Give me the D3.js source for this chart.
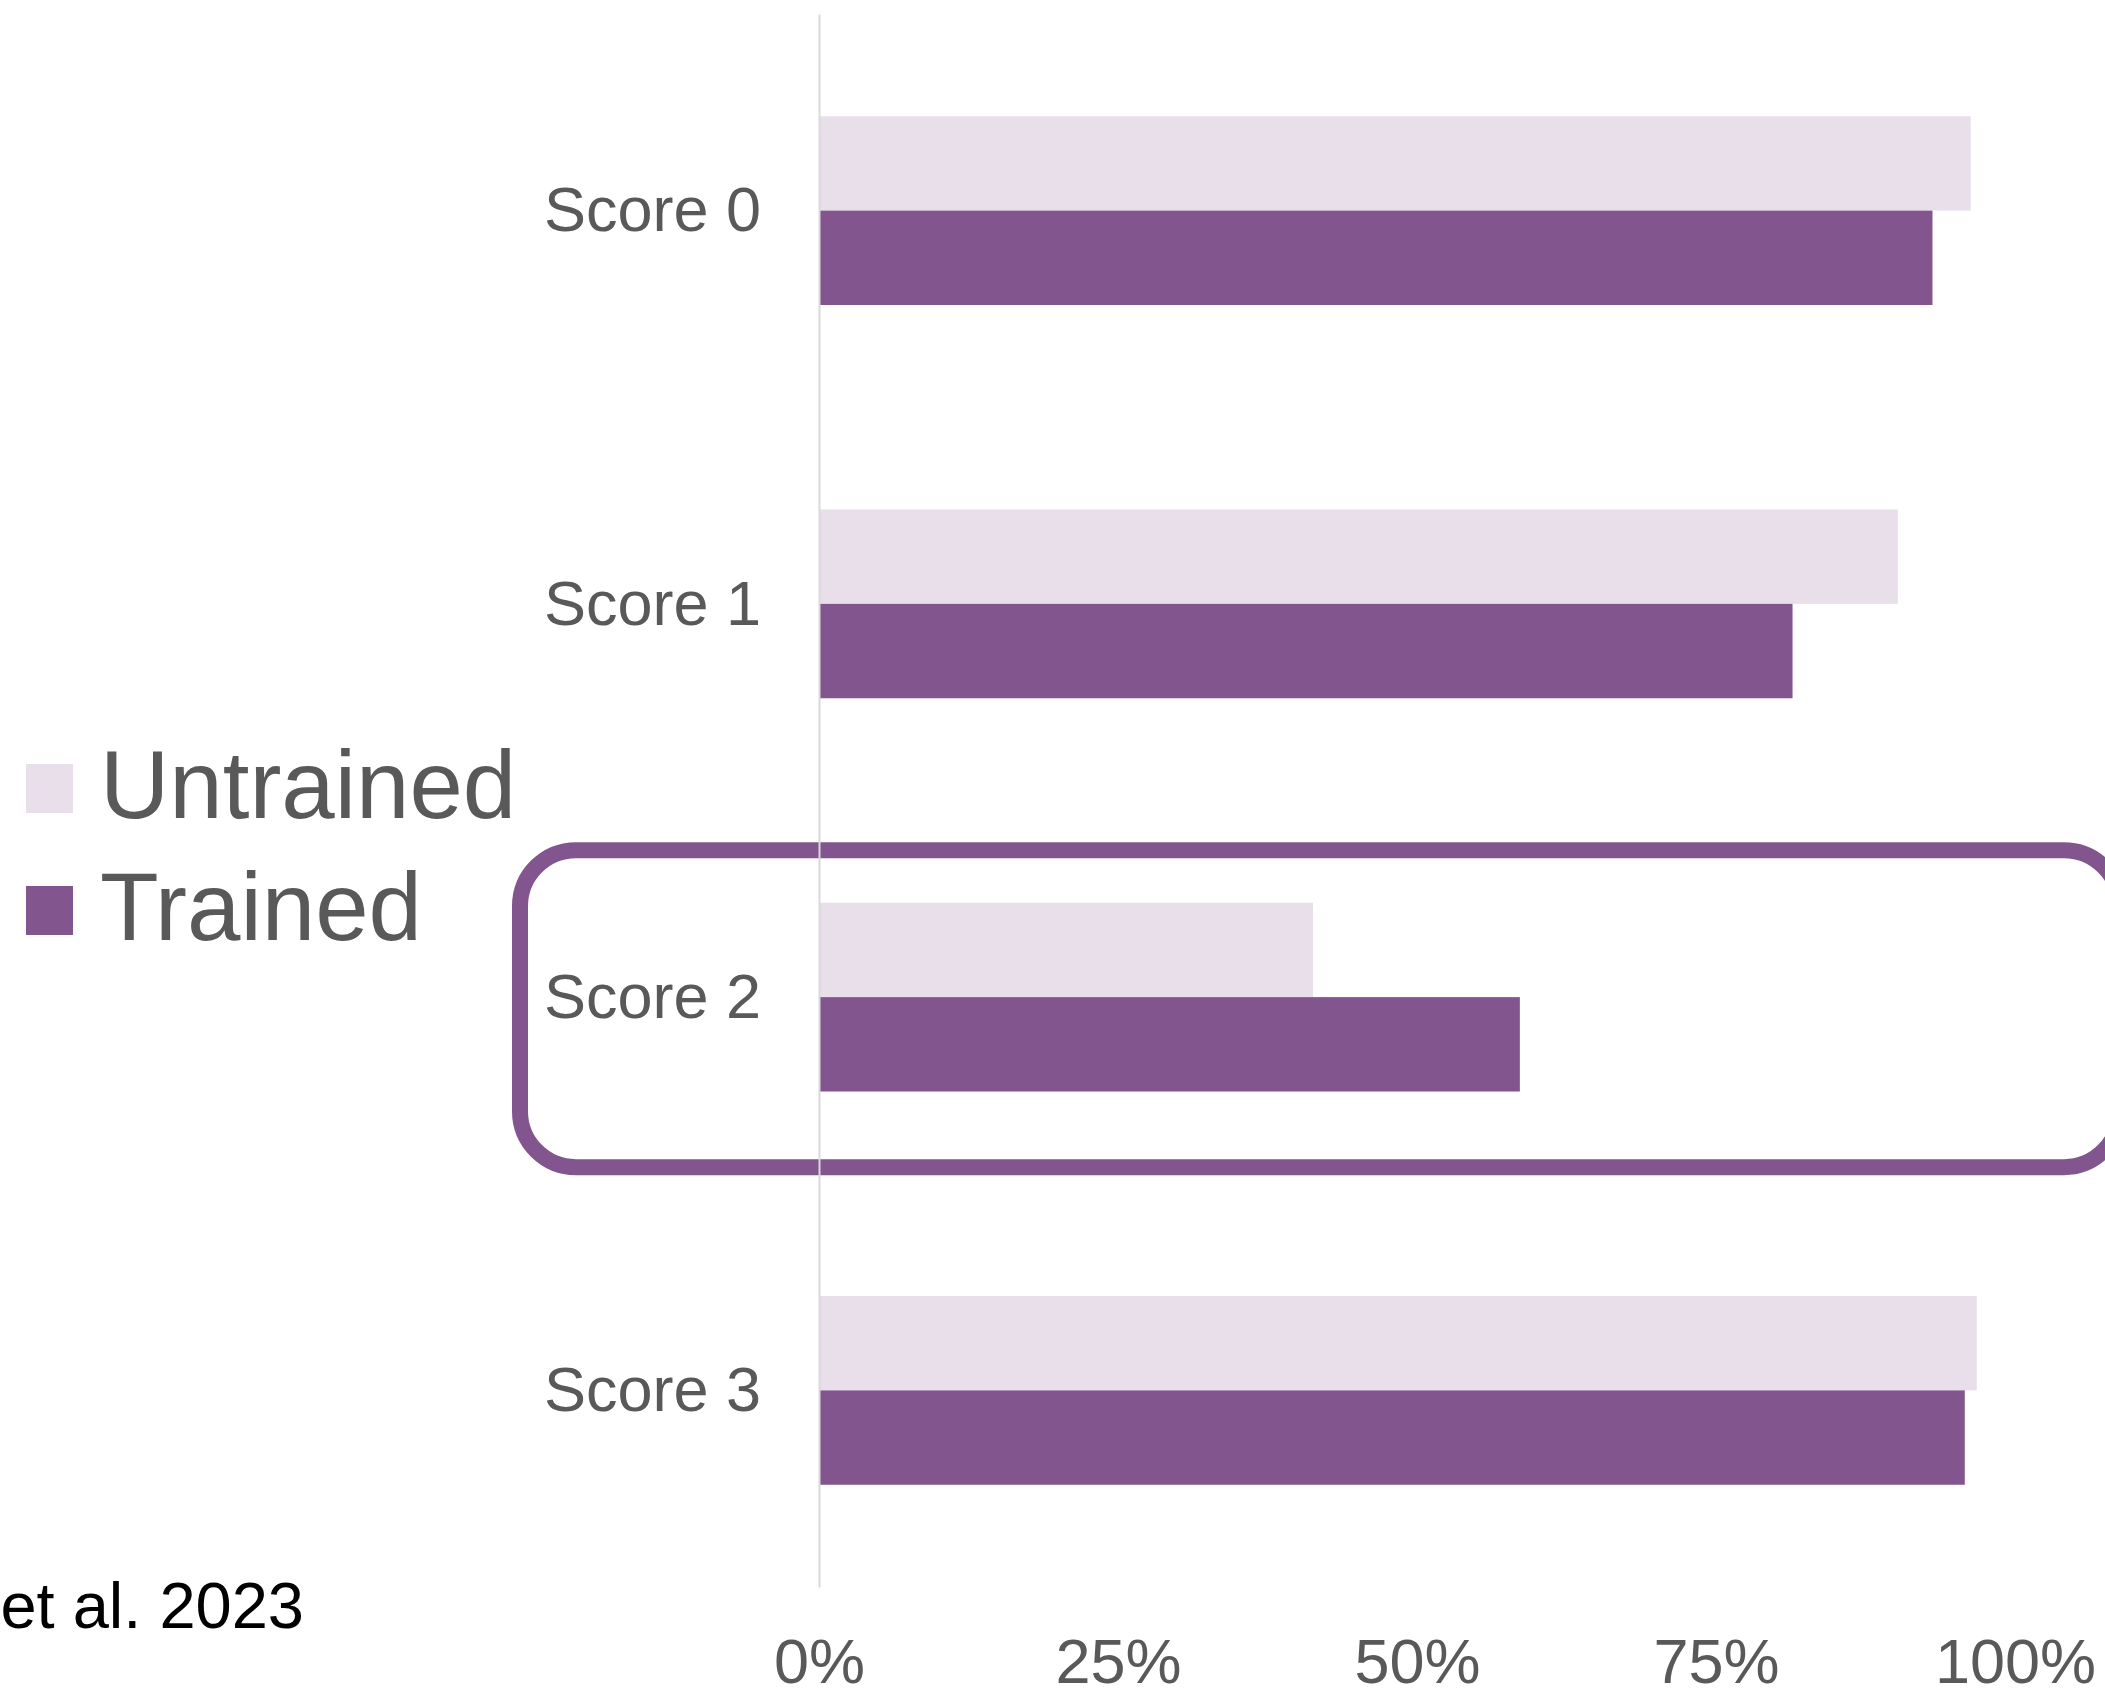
<!DOCTYPE html>
<html>
<head>
<meta charset="utf-8">
<script src="https://cdn.jsdelivr.net/npm/d3@7"></script>
<style>
  html, body { margin: 0; padding: 0; background: #fff; }
  svg { display: block; font-family: "Liberation Sans", Arial, sans-serif; }
</style>
</head>
<body>
<div class="container"></div>
<script>
const categories = ["Score 0", "Score 1", "Score 2", "Score 3"];
const seriesNames = ["Untrained", "Trained"];
const untrained = [0.963, 0.902, 0.413, 0.968];
const trained = [0.931, 0.814, 0.586, 0.958];
const xTicks = [0, 0.25, 0.5, 0.75, 1];
const highlighted = "Score 2";
const sourceText = "et al. 2023";

const w = 2105;
const h = 1691;
const colors = { Untrained: "#E9DFEB", Trained: "#82558F" };
const textGrey = "#595959";

const rows = categories.map((c, i) => ({ cat: c, Untrained: untrained[i], Trained: trained[i] }));

const svg = d3.select(".container")
  .append("svg")
  .attr("width", w)
  .attr("height", h);

const xScale = d3.scaleLinear()
  .domain([0, 1])
  .range([819, 2015]);

const yScale = d3.scaleBand()
  .domain(categories)
  .range([14, 1587])
  .paddingInner(0.52)
  .paddingOuter(0.26);

const subScale = d3.scaleBand()
  .domain(seriesNames)
  .range([0, yScale.bandwidth()]);

// highlight box around Score 2 (drawn first, bars sit on top)
const hy = yScale(highlighted) + yScale.bandwidth() / 2;
svg.append("rect")
  .attr("x", 520)
  .attr("y", hy - 147)
  .attr("width", 1600)
  .attr("height", 317)
  .attr("rx", 56)
  .attr("ry", 56)
  .attr("fill", "none")
  .attr("stroke", "#82558F")
  .attr("stroke-width", 16);

// bars
const groups = svg.selectAll(".cat")
  .data(rows)
  .enter()
  .append("g")
  .attr("class", "cat")
  .attr("transform", (d) => "translate(0," + yScale(d.cat) + ")");

groups.selectAll("rect")
  .data((d) => seriesNames.map((s) => ({ key: s, value: d[s] })))
  .enter()
  .append("rect")
  .attr("x", xScale(0))
  .attr("y", (d) => subScale(d.key))
  .attr("width", (d) => xScale(d.value) - xScale(0))
  .attr("height", subScale.bandwidth())
  .attr("fill", (d) => colors[d.key]);

// y axis (category labels + vertical line)
const yAxis = d3.axisLeft(yScale).tickSize(0).tickPadding(58);
const yg = svg.append("g")
  .attr("transform", "translate(" + xScale(0) + ",0)")
  .call(yAxis);
yg.select(".domain")
  .attr("stroke", "#D9D9D9")
  .attr("stroke-width", 2);
yg.selectAll("text")
  .attr("fill", textGrey)
  .attr("font-size", 63)
  .attr("font-family", "Liberation Sans, Arial, sans-serif")
  .attr("dy", "0.33em");

// x axis labels
const xAxis = d3.axisBottom(xScale)
  .tickValues(xTicks)
  .tickFormat(d3.format(".0%"))
  .tickSize(0)
  .tickPadding(51);
const xg = svg.append("g")
  .attr("transform", "translate(0,1587)")
  .call(xAxis);
xg.select(".domain").remove();
xg.selectAll("text")
  .attr("fill", textGrey)
  .attr("font-size", 63)
  .attr("font-family", "Liberation Sans, Arial, sans-serif");

// legend
const legend = svg.append("g").attr("id", "legend");
seriesNames.forEach((s, i) => {
  legend.append("rect")
    .attr("x", 26)
    .attr("y", 764 + i * 122)
    .attr("width", 47)
    .attr("height", 49)
    .attr("fill", colors[s]);
  legend.append("text")
    .attr("x", 100)
    .attr("y", 818 + i * 122)
    .attr("font-size", 96)
    .attr("fill", textGrey)
    .text(s);
});

// source note
svg.append("text")
  .attr("x", 304)
  .attr("y", 1628)
  .attr("text-anchor", "end")
  .attr("font-size", 65)
  .attr("fill", "#000")
  .text(sourceText);
</script>
</body>
</html>
